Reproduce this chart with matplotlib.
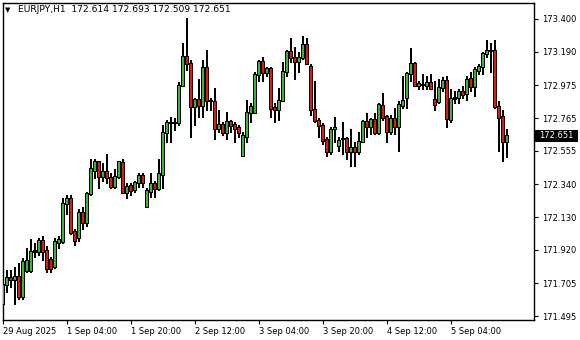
import matplotlib
matplotlib.use("Agg")
import matplotlib.pyplot as plt
from matplotlib.patches import Rectangle
import numpy as np

symbol_title = "EURJPY,H1"
title_prices = "172.614 172.693 172.509 172.651"
last_price = 172.651

opens = [171.572, 171.694, 171.739, 171.726, 171.745, 171.617, 171.784, 171.784, 171.906, 171.906,
         171.976, 171.912, 171.854, 171.809, 171.963, 171.970, 172.213, 172.246, 172.034, 171.995,
         172.156, 172.092, 172.278, 172.425, 172.483, 172.387, 172.419, 172.380, 172.322, 172.387,
         172.476, 172.284, 172.329, 172.303, 172.348, 172.393, 172.194, 172.290, 172.342, 172.310,
         172.399, 172.669, 172.733, 172.733, 172.733, 172.970, 173.156, 173.111, 172.836, 172.880,
         172.842, 173.086, 172.874, 172.868, 172.694, 172.720, 172.669, 172.739, 172.720, 172.701,
         172.521, 172.643, 172.797, 172.797, 173.041, 173.124, 173.054, 173.079, 172.829, 172.816,
         172.874, 173.060, 173.188, 173.150, 173.124, 173.150, 173.233, 173.092, 172.816, 172.746,
         172.714, 172.624, 172.547, 172.694, 172.585, 172.630, 172.630, 172.547, 172.573, 172.547,
         172.611, 172.739, 172.707, 172.752, 172.669, 172.842, 172.771, 172.675, 172.759, 172.707,
         172.842, 172.893, 173.047, 173.111, 172.970, 172.977, 172.970, 172.990, 172.880, 172.868,
         172.957, 173.002, 172.752, 172.887, 172.893, 172.932, 172.919, 173.015, 172.964, 173.067,
         173.092, 173.176, 173.195, 173.195, 172.836, 172.771, 172.614]
highs = [171.713, 171.784, 171.784, 171.809, 171.835, 171.867, 171.925, 171.983, 171.957, 171.995,
         172.002, 171.938, 171.873, 171.995, 172.002, 172.246, 172.271, 172.271, 172.053, 172.181,
         172.194, 172.290, 172.496, 172.496, 172.489, 172.470, 172.534, 172.412, 172.432, 172.489,
         172.496, 172.348, 172.348, 172.355, 172.412, 172.412, 172.316, 172.406, 172.355, 172.496,
         172.714, 172.752, 172.771, 172.765, 172.990, 173.240, 173.406, 173.137, 172.893, 173.009,
         173.131, 173.201, 172.893, 172.957, 172.816, 172.733, 172.803, 172.752, 172.733, 172.720,
         172.669, 172.880, 172.855, 173.060, 173.137, 173.156, 173.092, 173.092, 172.861, 172.957,
         173.124, 173.201, 173.272, 173.214, 173.188, 173.285, 173.278, 173.105, 172.996, 172.765,
         172.727, 172.637, 172.701, 172.771, 172.637, 172.733, 172.643, 172.694, 172.611, 172.675,
         172.752, 172.791, 172.765, 172.797, 172.861, 172.925, 172.784, 172.784, 172.829, 172.868,
         173.034, 173.060, 173.208, 173.118, 173.002, 173.047, 173.028, 173.047, 172.996, 173.015,
         173.022, 173.028, 172.945, 172.932, 172.945, 172.964, 173.034, 173.054, 173.086, 173.111,
         173.188, 173.259, 173.240, 173.259, 172.874, 172.810, 172.693]
lows = [171.521, 171.643, 171.675, 171.566, 171.598, 171.598, 171.777, 171.777, 171.873, 171.880,
        171.854, 171.771, 171.771, 171.797, 171.925, 171.963, 172.143, 172.015, 171.950, 171.970,
        172.047, 172.066, 172.265, 172.380, 172.316, 172.355, 172.348, 172.316, 172.316, 172.380,
        172.278, 172.246, 172.271, 172.284, 172.322, 172.322, 172.188, 172.258, 172.258, 172.303,
        172.316, 172.605, 172.605, 172.682, 172.720, 172.964, 173.067, 172.643, 172.714, 172.765,
        172.765, 172.816, 172.816, 172.624, 172.669, 172.650, 172.630, 172.675, 172.605, 172.643,
        172.515, 172.605, 172.739, 172.791, 173.002, 172.996, 173.034, 172.765, 172.739, 172.752,
        172.868, 173.028, 173.124, 173.009, 173.060, 173.143, 173.105, 172.784, 172.739, 172.643,
        172.592, 172.521, 172.534, 172.611, 172.547, 172.534, 172.502, 172.451, 172.451, 172.528,
        172.605, 172.643, 172.656, 172.656, 172.656, 172.746, 172.611, 172.662, 172.662, 172.547,
        172.829, 172.829, 172.996, 172.964, 172.945, 172.945, 172.945, 172.945, 172.810, 172.861,
        172.932, 172.701, 172.739, 172.861, 172.855, 172.887, 172.880, 172.932, 172.906, 173.047,
        173.047, 173.150, 173.060, 172.829, 172.547, 172.483, 172.509]
closes = [171.694, 171.739, 171.726, 171.745, 171.617, 171.841, 171.848, 171.906, 171.912, 171.976,
          171.906, 171.797, 171.797, 171.970, 171.983, 172.213, 172.246, 172.027, 171.976, 172.156,
          172.092, 172.278, 172.438, 172.483, 172.387, 172.419, 172.380, 172.322, 172.387, 172.483,
          172.284, 172.322, 172.297, 172.348, 172.393, 172.348, 172.297, 172.342, 172.310, 172.406,
          172.669, 172.733, 172.733, 172.733, 172.970, 173.156, 173.111, 172.836, 172.880, 172.842,
          173.086, 172.874, 172.874, 172.694, 172.720, 172.669, 172.739, 172.714, 172.694, 172.669,
          172.650, 172.797, 172.836, 173.041, 173.124, 173.054, 173.079, 172.823, 172.816, 172.874,
          173.060, 173.188, 173.150, 173.124, 173.150, 173.233, 173.111, 172.816, 172.746, 172.714,
          172.618, 172.547, 172.688, 172.701, 172.618, 172.630, 172.547, 172.573, 172.547, 172.611,
          172.739, 172.707, 172.752, 172.669, 172.848, 172.765, 172.675, 172.759, 172.707, 172.848,
          172.874, 173.047, 173.111, 172.970, 172.983, 172.977, 172.990, 172.951, 172.848, 172.957,
          173.002, 172.759, 172.887, 172.893, 172.932, 172.913, 173.009, 172.964, 173.073, 173.092,
          173.176, 173.195, 173.195, 172.836, 172.765, 172.611, 172.651]

xtick_labels = ["29 Aug 2025", "1 Sep 04:00", "1 Sep 20:00", "2 Sep 12:00",
                "3 Sep 04:00", "3 Sep 20:00", "4 Sep 12:00", "5 Sep 04:00"]
xtick_step = 16
ytick_values = [173.400, 173.190, 172.975, 172.765, 172.555,
                172.340, 172.130, 171.920, 171.705, 171.495]

GREEN = "#3cb43c"
RED = "#e01818"
W, H = 580, 340
YMIN, YMAX = 171.4694, 173.5026
PX = (YMAX - YMIN) / 317.0   # price per pixel

fig = plt.figure(figsize=(W / 100, H / 100), dpi=100)
fig.patch.set_facecolor("white")
ax = fig.add_axes([3 / W, 20 / H, 531 / W, 317 / H])

o = np.array(opens); h = np.array(highs); l = np.array(lows); c = np.array(closes)
x = np.arange(len(o))
up = c >= o
lo_b = np.minimum(o, c)
hgt = np.abs(c - o)

ax.vlines(x, l, h, color="black", linewidth=0.72, zorder=2,
          antialiased=False, snap=False)
# black outline body (3 px wide)
bb = ax.bar(x, hgt + PX, bottom=lo_b - PX / 2, width=0.75, color="black",
            linewidth=0, zorder=3, antialiased=False)
for p in bb:
    p.set_snap(False)
# coloured interior (1 px wide)
inner = hgt - PX
mask = inner > 0
ib = ax.bar(x[mask], inner[mask], bottom=lo_b[mask] + PX / 2, width=0.25,
            color=np.where(up, GREEN, RED)[mask], linewidth=0, zorder=4,
            antialiased=False)
for p in ib:
    p.set_snap(False)

ax.set_xlim(-0.1, -0.1 + 531 / 4)
ax.set_ylim(YMIN, YMAX)

ax.yaxis.tick_right()
ax.set_yticks(ytick_values)
ax.set_yticklabels([f"{v:.3f}" for v in ytick_values])
ax.set_xticks(np.arange(len(xtick_labels)) * xtick_step)
ax.set_xticklabels(xtick_labels)
for lab in ax.get_xticklabels():
    lab.set_horizontalalignment("left")
ax.tick_params(axis="both", direction="out", length=3, width=0.8, labelsize=6,
               colors="black", pad=2)
ax.tick_params(axis="y", pad=3)
for s in ax.spines.values():
    s.set_linewidth(1.0)
    s.set_color("black")

# header
fig.text(5 / W, 1 - 10 / H, "\u25BC", fontsize=5, va="center", ha="left", color="black")
fig.text(18 / W, 1 - 10 / H, symbol_title + "  " + title_prices, fontsize=6.6,
         va="center", ha="left", color="black")

# current price label
fig.patches.append(Rectangle((535 / W, 1 - 142 / H), 43 / W, 12 / H,
                             transform=fig.transFigure, facecolor="black",
                             edgecolor="none", zorder=5))
fig.text(539 / W, 1 - 136 / H, f"{last_price:.3f}", fontsize=6, color="white",
         va="center", ha="left", zorder=6)

fig.savefig("out.png", dpi=100, facecolor="white")
